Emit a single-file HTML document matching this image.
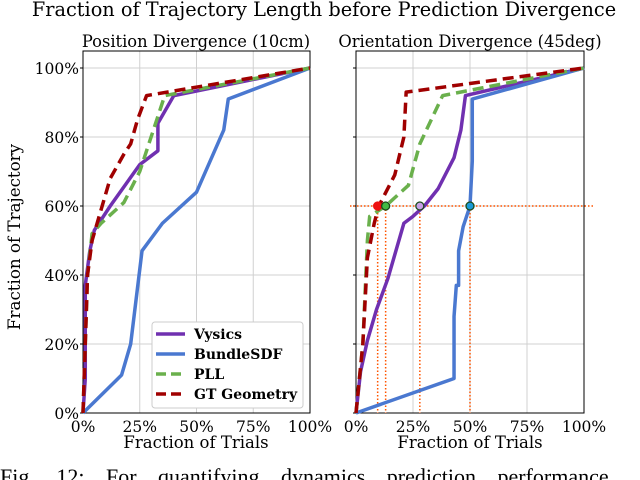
<!DOCTYPE html>
<html><head><meta charset="utf-8"><style>
body{margin:0;background:#fff;width:640px;height:480px;overflow:hidden}
svg{display:block;font-family:"DejaVu Serif","Liberation Serif",serif}
</style></head><body>
<svg id="chart" width="640" height="480" viewBox="0 0 640 480">
<text x="324" y="16" text-anchor="middle" font-size="19.3">Fraction of Trajectory Length before Prediction Divergence</text>
<text x="196" y="47" text-anchor="middle" font-size="16.3">Position Divergence (10cm)</text>
<text x="470" y="47" text-anchor="middle" font-size="16.3">Orientation Divergence (45deg)</text>
<text transform="translate(20,237) rotate(-90)" text-anchor="middle" font-size="16.7">Fraction of Trajectory</text>
<text x="196" y="448" text-anchor="middle" font-size="16.5">Fraction of Trials</text>
<text x="470" y="448" text-anchor="middle" font-size="16.5">Fraction of Trials</text>
<text x="0" y="484" font-family="Liberation Serif,serif" font-size="22" word-spacing="16">Fig. 12: For quantifying dynamics prediction performance</text>
<g id="left"></g>
<g id="right"></g>
</svg>
<script>
const xTicks=[0,25,50,75,100];
const yTicks=[0,20,40,60,80,100];
const seriesNames=["Vysics","BundleSDF","PLL","GT Geometry"];
const seriesColors=["#7030b0","#4a78d0","#6ab04c","#a00000"];
const seriesDash=[null,null,"11,6","11,6"];
const posVysicsX=[0,1,1,3,5,12,25,33,33,40,100];
const posVysicsY=[0,10,37,47,53,60,72,76,84,92,100];
const posBundleX=[0,17,21,26,35,50,62,64,100];
const posBundleY=[0,11,20,47,55,64,82,91,100];
const posPllX=[0,1,2,4,8,18,25,30,36,100];
const posPllY=[0,20,40,52,55,61,70,80,92,100];
const posGtX=[0,1,2,4,12,18,21,24,28,100];
const posGtY=[0,20,40,50,68,75,78,85,92,100];
const oriVysicsX=[0,2,5,9,14,21,25,30,36,43,46,48,100];
const oriVysicsY=[0,12,21,30,39,55,57,60,65,74,82,92,100];
const oriBundleX=[0,43,43,44,45,45,47,50,51,51,100];
const oriBundleY=[0,10,28,37,37,47,54,60,73,91,100];
const oriPllX=[0,3,5,6,13,23,28,38,100];
const oriPllY=[0,20,50,57,60,66,78,92,100];
const oriGtX=[0,3,5,8,10,17,21,22,100];
const oriGtY=[0,20,45,55,60,69,80,93,100];
const markerX=[9.5,13,28,50];
const markerY=60;
const markerColors=["#ee1111","#44bb44","#c8a0e8","#1a9ad8"];
const NS="http://www.w3.org/2000/svg";
function mk(t,a,p){const e=document.createElementNS(NS,t);for(const k in a)e.setAttribute(k,a[k]);p.appendChild(e);return e;}
function panel(g,x0,x1,showY,sets,withLegend,withMarkers){
  const yT=51,y0=413,y100=68;
  const sx=v=>x0+v/100*(x1-x0), sy=v=>y0-v/100*(y0-y100);
  xTicks.forEach(t=>{const l=mk('line',{x1:sx(t),x2:sx(t),y1:yT,y2:y0,stroke:'#d0d0d0','stroke-width':1},g);
    
    const tx=mk('text',{x:sx(t),y:y0+19,'text-anchor':'middle','font-size':15.5},g);tx.textContent=t+'%';
    });
  yTicks.forEach(t=>{const l=mk('line',{x1:x0,x2:x1,y1:sy(t),y2:sy(t),stroke:'#d0d0d0','stroke-width':1},g);
    
    mk('line',{x1:x0-3,x2:x0,y1:sy(t),y2:sy(t),stroke:'#000'},g);
    if(showY){const tx=mk('text',{x:x0-4,y:sy(t)+6,'text-anchor':'end','font-size':15.5},g);tx.textContent=t+'%';
    }});
  const fr=mk('rect',{x:x0,y:yT,width:x1-x0,height:y0-yT,fill:'none',stroke:'#000','stroke-width':1},g);
  
  if(withMarkers){
    const h=mk('line',{x1:x0-6,x2:x1+11,y1:sy(markerY),y2:sy(markerY),stroke:'#ff5500','stroke-width':1.5,'stroke-dasharray':'1.5,2'},g);
    
    markerX.forEach(m=>{const v=mk('line',{x1:sx(m),x2:sx(m),y1:sy(markerY),y2:y0,stroke:'#ff5500','stroke-width':1.5,'stroke-dasharray':'1.5,2'},g);
      });
  }
  sets.forEach((s,i)=>{const pts=s[0].map((v,j)=>sx(v)+','+sy(s[1][j])).join(' ');
    const a={points:pts,fill:'none',stroke:seriesColors[i],'stroke-width':3.5,'stroke-linejoin':'round'};
    if(seriesDash[i])a['stroke-dasharray']=seriesDash[i];
    const p=mk('polyline',a,g);
    
    });
  if(withMarkers){markerX.forEach((m,i)=>{const c=mk('circle',{cx:sx(m),cy:sy(markerY),r:4,fill:markerColors[i],stroke:i==0?'#ee1111':'#1a4a1a','stroke-width':1.3},g);
    });}
  if(withLegend){
    const lg=mk('g',{},g);
    mk('rect',{x:152,y:322,width:151,height:86,rx:3,fill:'#fff',stroke:'#ccc'},lg);
    seriesNames.forEach((n,i)=>{const y=334+i*20;
      const a={x1:156,x2:185,y1:y,y2:y,stroke:seriesColors[i],'stroke-width':3.5};
      if(seriesDash[i])a['stroke-dasharray']='10,5';
      const l=mk('line',a,lg);
      const t=mk('text',{x:194,y:y+5,'font-size':14,'font-weight':'bold'},lg);t.textContent=n;
      });
  }
}
panel(document.getElementById('left'),83,310,true,[[posVysicsX,posVysicsY],[posBundleX,posBundleY],[posPllX,posPllY],[posGtX,posGtY]],true,false);
panel(document.getElementById('right'),356,584,false,[[oriVysicsX,oriVysicsY],[oriBundleX,oriBundleY],[oriPllX,oriPllY],[oriGtX,oriGtY]],false,true);
</script>
</body></html>
